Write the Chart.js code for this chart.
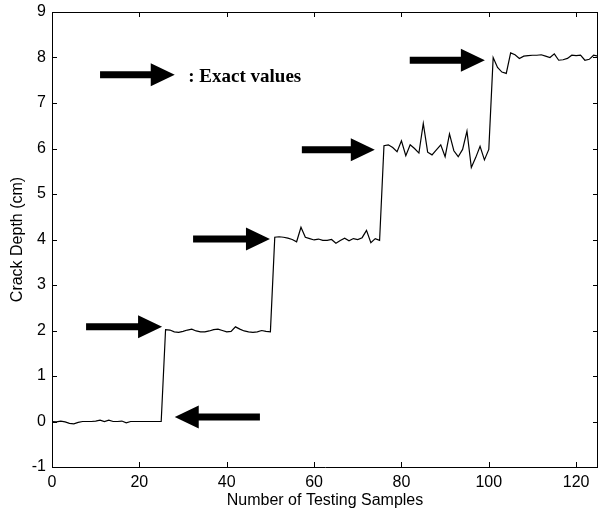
<!DOCTYPE html>
<html lang="en">
<head>
    <meta charset="UTF-8">
    <title>Crack Depth</title>
    <script src="https://cdn.jsdelivr.net/npm/chart.js@4.4.0/dist/chart.umd.min.js"></script>
    <style>
        html, body { margin: 0; padding: 0; background: #fff; }
        canvas { display: block; }
    </style>
</head>
<body>
    <canvas id="myChart" width="598" height="517"></canvas>

<script>
// crack depth (cm) for testing samples 0..125
var crackDepth = [
    // 0 - 25
    0.00, -0.01, 0.01, -0.01, -0.04, -0.05, -0.02, 0.00, 0.00, 0.00, 0.01, 0.03, 0.00,
    0.03, 0.00, 0.00, 0.01, -0.03, 0.00, 0.00, 0.00, 0.00, 0.00, 0.00, 0.00, 0.00,
    // 26 - 50
    2.02, 2.01, 1.97, 1.96, 1.98, 2.01, 2.03, 1.99, 1.97, 1.97, 1.99, 2.02, 2.03,
    2.00, 1.97, 1.98, 2.08, 2.03, 1.99, 1.97, 1.96, 1.97, 2.00, 1.98, 1.97,
    // 51 - 75
    4.05, 4.06, 4.05, 4.03, 4.00, 3.95, 4.27, 4.05, 4.02, 3.99, 4.01, 3.98, 3.98,
    4.00, 3.92, 3.98, 4.03, 3.97, 4.02, 4.00, 4.04, 4.20, 3.93, 4.02, 3.98,
    // 76 - 100
    6.06, 6.08, 6.02, 5.93, 6.17, 5.84, 6.08, 6.00, 5.90, 6.55, 5.92, 5.86, 5.97,
    6.08, 5.82, 6.32, 5.95, 5.82, 5.98, 6.38, 5.58, 5.80, 6.05, 5.75, 5.98,
    // 101 - 125
    8.00, 7.78, 7.68, 7.65, 8.10, 8.06, 7.98, 8.03, 8.04, 8.05, 8.05, 8.06, 8.03,
    8.00, 8.08, 7.94, 7.95, 7.98, 8.05, 8.04, 8.05, 7.94, 7.96, 8.05, 8.03
];

var xTicks = [0, 20, 40, 60, 80, 100, 120];
var yTicks = [-1, 0, 1, 2, 3, 4, 5, 6, 7, 8, 9];

// "exact value" arrows, in data units (tail x, head x, y)
var arrowTailX = [11.0, 7.8, 32.3, 57.2, 81.9, 47.6];
var arrowHeadX = [28.1, 25.2, 49.9, 73.9, 99.1, 28.1];
var arrowY     = [7.62, 2.08, 4.01, 5.97, 7.94, 0.10];

var legendText = ': Exact values';
var legendPos = [31.2, 7.58];

var xTitle = 'Number of Testing Samples';
var yTitle = 'Crack Depth (cm)';

var points = crackDepth.map(function (v, i) { return { x: i, y: v }; });

// inward tick marks on all four sides + top/right border
var frame = {
    id: 'frame',
    afterDraw: function (chart) {
        var ctx = chart.ctx;
        var a = chart.chartArea;
        var xs = chart.scales.x, ys = chart.scales.y;
        var len = 5;
        ctx.save();
        ctx.strokeStyle = '#000';
        ctx.lineWidth = 1;
        ctx.beginPath();
        ctx.moveTo(a.left, a.top + 0.5);
        ctx.lineTo(a.right, a.top + 0.5);
        ctx.moveTo(a.right - 0.5, a.top);
        ctx.lineTo(a.right - 0.5, a.bottom);
        xs.ticks.forEach(function (t) {
            var px = Math.round(xs.getPixelForValue(t.value)) + 0.5;
            ctx.moveTo(px, a.bottom);
            ctx.lineTo(px, a.bottom - len);
            ctx.moveTo(px, a.top);
            ctx.lineTo(px, a.top + len);
        });
        ys.ticks.forEach(function (t) {
            var py = Math.round(ys.getPixelForValue(t.value)) + 0.5;
            ctx.moveTo(a.left, py);
            ctx.lineTo(a.left + len, py);
            ctx.moveTo(a.right, py);
            ctx.lineTo(a.right - len, py);
        });
        ctx.stroke();
        ctx.restore();
    }
};

// thick black arrows and the legend text
var arrows = {
    id: 'arrows',
    afterDatasetsDraw: function (chart) {
        var ctx = chart.ctx;
        var xs = chart.scales.x, ys = chart.scales.y;
        var shaft = 3.5, headLen = 24, headHalf = 11.5;
        ctx.save();
        ctx.fillStyle = '#000';
        for (var i = 0; i < arrowY.length; i++) {
            var x0 = xs.getPixelForValue(arrowTailX[i]);
            var x1 = xs.getPixelForValue(arrowHeadX[i]);
            var y = ys.getPixelForValue(arrowY[i]);
            var dir = x1 > x0 ? 1 : -1;
            var xb = x1 - dir * headLen;
            ctx.beginPath();
            ctx.moveTo(x0, y - shaft);
            ctx.lineTo(xb, y - shaft);
            ctx.lineTo(xb, y - headHalf);
            ctx.lineTo(x1, y);
            ctx.lineTo(xb, y + headHalf);
            ctx.lineTo(xb, y + shaft);
            ctx.lineTo(x0, y + shaft);
            ctx.closePath();
            ctx.fill();
        }
        ctx.font = 'bold 19px "Liberation Serif", "Times New Roman", serif';
        ctx.textAlign = 'left';
        ctx.textBaseline = 'middle';
        ctx.fillText(legendText, xs.getPixelForValue(legendPos[0]), ys.getPixelForValue(legendPos[1]));
        ctx.restore();
    }
};

var ctx = document.getElementById('myChart').getContext('2d');
var myChart = new Chart(ctx, {
    type: 'line',
    data: {
        datasets: [{
            data: points,
            borderColor: '#000',
            borderWidth: 1.2,
            pointRadius: 0,
            tension: 0,
            fill: false
        }]
    },
    options: {
        responsive: false,
        animation: false,
        layout: { padding: { top: 12, right: 0, left: 0, bottom: 0 } },
        plugins: {
            legend: { display: false },
            tooltip: { enabled: false }
        },
        scales: {
            x: {
                type: 'linear',
                min: 0,
                max: 125,
                afterBuildTicks: function (s) {
                    s.ticks = xTicks.map(function (v) { return { value: v }; });
                },
                afterFit: function (s) { s.height = 50; s.paddingRight = 0; },
                ticks: {
                    padding: 6,
                    color: '#000',
                    maxRotation: 0,
                    font: { family: '"Liberation Sans", Arial, sans-serif', size: 16 }
                },
                grid: { display: true, drawOnChartArea: false, drawTicks: false },
                border: { display: true, color: '#000', width: 1 },
                title: {
                    display: true,
                    text: xTitle,
                    color: '#000',
                    padding: { top: 0, bottom: 7 },
                    font: { family: '"Liberation Sans", Arial, sans-serif', size: 16 }
                }
            },
            y: {
                type: 'linear',
                min: -1,
                max: 9,
                afterBuildTicks: function (s) {
                    s.ticks = yTicks.map(function (v) { return { value: v }; });
                },
                afterFit: function (s) { s.width = 52; s.paddingTop = 0; },
                ticks: {
                    padding: 6,
                    color: '#000',
                    font: { family: '"Liberation Sans", Arial, sans-serif', size: 16 }
                },
                grid: { display: true, drawOnChartArea: false, drawTicks: false },
                border: { display: true, color: '#000', width: 1 },
                title: {
                    display: true,
                    text: yTitle,
                    color: '#000',
                    padding: { top: 8, bottom: 0 },
                    font: { family: '"Liberation Sans", Arial, sans-serif', size: 16 }
                }
            }
        }
    },
    plugins: [frame, arrows]
});
</script>
</body>
</html>
